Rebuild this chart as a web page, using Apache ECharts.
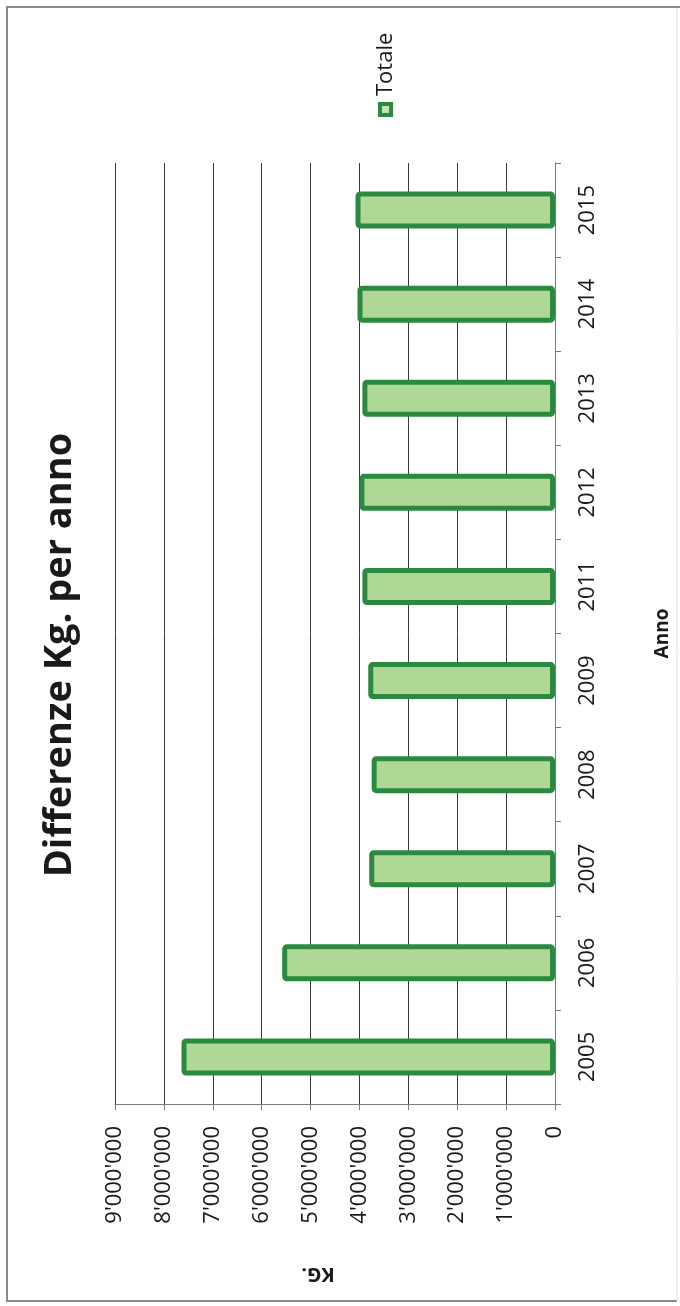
<!DOCTYPE html>
<html>
<head>
<meta charset="utf-8">
<script src="https://cdn.jsdelivr.net/npm/echarts@6/dist/echarts.min.js"></script>
<style>
  html, body { margin: 0; padding: 0; background: #fff; }
  #main { width: 680px; height: 1306px; }
</style>
</head>
<body>
<div id="main"></div>
<script>
// dati
var anni = ['2005', '2006', '2007', '2008', '2009', '2011', '2012', '2013', '2014', '2015'];
var totale = [7640000, 5580000, 3800000, 3750000, 3820000, 3940000, 4000000, 3940000, 4040000, 4080000];
var titolo = 'Differenze Kg. per anno';
var nomeSerie = 'Totale';
var nomeAsseX = 'Anno';
var nomeAsseY = 'KG.';

var font = '"Open Sans", "Liberation Sans", sans-serif';
var verdeScuro = '#2b8a3f';
var verdeChiaro = '#afd795';

// 1000000 -> 1'000'000
function formatta(v) {
    return String(v).replace(/\B(?=(\d{3})+(?!\d))/g, "'");
}

var myChart = echarts.init(document.getElementById('main'));

var option = {
    animation: false,
    backgroundColor: '#fff',
    grid: {
        left: 115,
        right: 122,
        top: 163,
        bottom: 202
    },
    xAxis: {
        type: 'value',
        inverse: true,
        position: 'bottom',
        min: 0,
        max: 9000000,
        interval: 1000000,
        name: nomeAsseY,
        nameLocation: 'middle',
        nameRotate: 180,
        nameGap: 160,
        nameTextStyle: {
            fontFamily: font,
            fontWeight: 'bold',
            fontSize: 20,
            color: '#1a1a1a',
            padding: [0, 0, 0, 34]
        },
        axisLine: { show: true, lineStyle: { color: '#7a7a7a', width: 1 } },
        axisTick: { show: true, length: 6, lineStyle: { color: '#7a7a7a' } },
        axisLabel: {
            rotate: 90,
            margin: 22,
            formatter: formatta,
            fontFamily: font,
            fontSize: 22,
            color: '#1a1a1a'
        },
        splitLine: { show: true, lineStyle: { color: '#3a3a3a', width: 1 } }
    },
    yAxis: {
        type: 'category',
        data: anni,
        position: 'right',
        name: nomeAsseX,
        nameLocation: 'middle',
        nameRotate: 90,
        nameGap: 98,
        nameTextStyle: {
            fontFamily: font,
            fontWeight: 'bold',
            fontSize: 19,
            color: '#1a1a1a'
        },
        axisLine: { show: true, lineStyle: { color: '#7a7a7a', width: 1 } },
        axisTick: { show: true, length: 6, lineStyle: { color: '#7a7a7a' } },
        axisLabel: {
            rotate: 90,
            margin: 22,
            fontFamily: font,
            fontSize: 22,
            color: '#1a1a1a'
        },
        splitLine: { show: false }
    },
    graphic: [
        {   // cornice (lato destro appena visibile)
            type: 'polyline',
            silent: true,
            z: -1,
            shape: { points: [[680, 7], [7, 7], [7, 1301], [677, 1301]] },
            style: { fill: 'none', stroke: '#8a8a8a', lineWidth: 2 }
        },
        {
            type: 'line',
            silent: true,
            z: -1,
            shape: { x1: 677, y1: 8, x2: 677, y2: 1301 },
            style: { stroke: '#e2e2e2', lineWidth: 1 }
        },
        {   // titolo ruotato
            type: 'text',
            x: 60,
            y: 655,
            rotation: Math.PI / 2,
            style: {
                text: titolo,
                font: 'bold 38px ' + font,
                fill: '#1a1a1a',
                align: 'center',
                verticalAlign: 'middle'
            }
        },
        {   // legenda: simbolo
            type: 'rect',
            shape: { x: 378, y: 102, width: 15, height: 15 },
            style: { fill: verdeScuro }
        },
        {
            type: 'rect',
            shape: { x: 382, y: 106, width: 7, height: 7 },
            style: { fill: '#c2e5ab' }
        },
        {   // legenda: testo
            type: 'text',
            x: 386,
            y: 96,
            rotation: Math.PI / 2,
            style: {
                text: nomeSerie,
                font: '22px ' + font,
                fill: '#1a1a1a',
                align: 'left',
                verticalAlign: 'middle'
            }
        }
    ],
    series: [{
        name: nomeSerie,
        type: 'bar',
        data: totale,
        barWidth: 37,
        itemStyle: {
            color: verdeChiaro,
            borderColor: verdeScuro,
            borderWidth: 5,
            borderRadius: 2
        }
    }]
};

myChart.setOption(option);
window.onresize = function () {
    myChart.resize();
};
</script>
</body>
</html>
